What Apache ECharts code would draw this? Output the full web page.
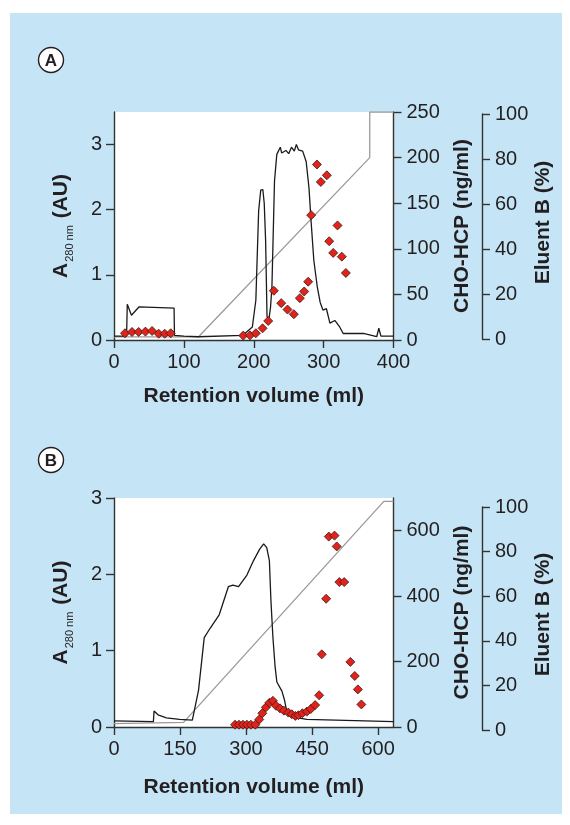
<!DOCTYPE html>
<html>
<head>
<meta charset="utf-8">
<script src="https://cdn.jsdelivr.net/npm/echarts@6/dist/echarts.min.js"></script>
<style>
  html, body { margin: 0; padding: 0; background: #fff; }
  #chart { width: 570px; height: 825px; }
</style>
</head>
<body>
<div id="chart"></div>
<script>
// Panel A: [retention volume (ml), value]
const traceA = [
  [0, 0.06], [18, 0.06], [19, 0.55], [25, 0.38], [36, 0.51], [86, 0.49], [86.5, 0.07],
  [100, 0.06], [121, 0.05], [184, 0.07], [198, 0.2], [203, 0.61], [207, 1.98], [210, 2.3],
  [213, 2.31], [215, 2.1], [217, 1.52], [219, 0.36], [221.5, 0.3], [224, 0.5], [226, 0.81],
  [229.7, 2.44], [233, 2.85], [238, 2.96], [240, 2.87], [246, 2.91], [250, 2.86], [254, 2.96],
  [258, 2.9], [261, 3.0], [264, 2.92], [270, 2.9], [275, 2.74], [279, 2.34], [282, 1.83],
  [286, 1.22], [291, 0.81], [295, 0.58], [299, 0.46], [304, 0.48], [309, 0.26], [316, 0.3],
  [323, 0.2], [328, 0.1], [357, 0.1], [376, 0.05], [379, 0.18], [382, 0.06], [400, 0.06]
];
const hcpA = [
  [15.7, 7.4], [25.8, 8.8], [35.3, 8.8], [45, 9.2], [54.5, 9.9], [64, 6.9], [72.6, 6.9], [81.2, 7.4],
  [185, 4.8], [194.6, 5.1], [203, 7.4], [212.6, 12.8], [220.7, 20.9], [228.8, 54], [239.3, 40.4],
  [248.3, 33.4], [257.4, 28.3], [266, 45.9], [272.2, 53.2], [277.9, 63.9], [282.2, 136.9],
  [290.4, 192.4], [296, 173.3], [304.6, 180.6], [308, 108.3], [313.7, 95.5], [319.9, 125.6],
  [326, 91.4], [331.8, 73.5]
];
const gradientA = [[0, 1.4], [121, 1.4], [366, 80], [366, 100], [400, 100]];

// Panel B
const traceB = [
  [0, 0.08], [89.5, 0.07], [91, 0.21], [100, 0.16], [119, 0.12], [149, 0.1], [178, 0.09],
  [192, 0.48], [205, 1.17], [218, 1.29], [239, 1.47], [260, 1.84], [270, 1.86], [283, 1.84],
  [302, 1.99], [317, 2.18], [331, 2.33], [340, 2.4], [347, 2.35], [353, 2.18], [356.5, 1.66],
  [361, 1.18], [366, 0.79], [370, 0.59], [381.5, 0.47], [387.5, 0.35], [392, 0.22],
  [408, 0.13], [438, 0.1], [635, 0.07]
];
const hcpB = [
  [275, 7], [284, 7], [293, 7], [302, 7], [311, 7], [321, 7], [330, 23], [337, 42], [345, 60],
  [353, 74], [361, 80], [368, 65], [377, 57], [386, 50], [396, 44], [404, 39], [412, 34],
  [419, 36], [428, 42], [438, 47], [447, 55], [457, 67], [466, 97], [472, 222], [482, 392],
  [488, 582], [501, 585], [506, 552], [512, 443], [523, 443], [537, 199], [547, 156],
  [554, 115], [562, 69]
];
const gradientB = [[0, 1.5], [158, 2], [613, 98.5], [635, 98.5]];

const xTicksA = [0, 100, 200, 300, 400];
const xTicksB = [0, 150, 300, 450, 600];
const a280Ticks = [0, 1, 2, 3];
const hcpTicksA = [0, 50, 100, 150, 200, 250];
const hcpTicksB = [0, 200, 400, 600];
const eluentTicks = [0, 20, 40, 60, 80, 100];

const FONT = '"Liberation Sans", Arial, Helvetica, sans-serif';
const AXIS_COLOR = '#333';
const TEXT_COLOR = '#231f20';

function axisStyle(ticks, margin) {
  return {
    axisLine: { show: true, onZero: false, lineStyle: { color: AXIS_COLOR, width: 1.4 } },
    axisTick: { show: true, length: 8, customValues: ticks, lineStyle: { color: AXIS_COLOR, width: 1.4 } },
    axisLabel: { customValues: ticks, margin: margin, color: TEXT_COLOR, fontSize: 20, fontFamily: FONT },
    splitLine: { show: false }
  };
}

const titleStyle = { color: TEXT_COLOR, fontSize: 21, fontWeight: 'bold', fontFamily: FONT };
const a280Name = {
  name: '{a|A}{s|280 nm}{a| (AU)}',
  nameTextStyle: {
    rich: {
      a: { fontSize: 21, fontWeight: 'bold', fontFamily: FONT, color: TEXT_COLOR, lineHeight: 25, verticalAlign: 'bottom' },
      s: { fontSize: 11, fontFamily: FONT, color: TEXT_COLOR, lineHeight: 11, verticalAlign: 'bottom', padding: [0, 1, -3, 1] }
    }
  }
};

function mainAxes(grid, xMax, xTicks, yMax, hcpMax, hcpTicks, xNameGap) {
  return {
    x: [
      Object.assign({ type: 'value', gridIndex: grid, min: 0, max: xMax,
        name: 'Retention volume (ml)', nameLocation: 'middle', nameGap: xNameGap, nameTextStyle: titleStyle },
        axisStyle(xTicks, 12)),
      { type: 'value', gridIndex: grid + 1, min: 0, max: 1, show: false }
    ],
    y: [
      Object.assign({ type: 'value', gridIndex: grid, position: 'left', min: 0, max: yMax,
        nameLocation: 'middle', nameRotate: 90, nameGap: 42 }, a280Name, axisStyle(a280Ticks, 12)),
      Object.assign({ type: 'value', gridIndex: grid, position: 'right', min: 0, max: hcpMax,
        name: 'CHO-HCP (ng/ml)', nameLocation: 'middle', nameRotate: 90, nameGap: 58, nameTextStyle: titleStyle },
        axisStyle(hcpTicks, 13)),
      { type: 'value', gridIndex: grid, min: 0, max: 100, show: false },
      Object.assign({ type: 'value', gridIndex: grid + 1, position: 'right', min: 0, max: 100,
        name: 'Eluent B (%)', nameLocation: 'middle', nameRotate: 90, nameGap: 48,
        nameTextStyle: Object.assign({ padding: [0, 0, 0, 8] }, titleStyle) },
        axisStyle(eluentTicks, 13))
    ]
  };
}

const axA = mainAxes(0, 400, xTicksA, 3.5, 250, hcpTicksA, 46);
const axB = mainAxes(2, 635, xTicksB, 3, 700, hcpTicksB, 50);

const diamond = {
  type: 'scatter', symbol: 'diamond', symbolSize: 9, z: 5,
  itemStyle: { color: '#e3231b', borderColor: '#3a1a14', borderWidth: 0.8, opacity: 1 }
};
const traceLine = {
  type: 'line', showSymbol: false, symbol: 'none', z: 3,
  lineStyle: { color: '#1a1a1a', width: 1.3 }
};
const gradLine = {
  type: 'line', showSymbol: false, symbol: 'none', z: 2,
  lineStyle: { color: '#9a9a9a', width: 1.3 }
};

const chart = echarts.init(document.getElementById('chart'), null, { renderer: 'canvas' });

function badge(letter, cx, cy) {
  return {
    type: 'group', children: [
      { type: 'circle', shape: { cx: cx, cy: cy, r: 12.5 },
        style: { fill: '#fff', stroke: '#231f20', lineWidth: 1.4 } },
      { type: 'text', x: cx, y: cy + 1,
        style: { text: letter, fill: '#231f20', font: 'bold 17px ' + FONT, align: 'center', verticalAlign: 'middle' } }
    ]
  };
}

chart.setOption({
  backgroundColor: '#fff',
  animation: false,
  graphic: [
    { type: 'rect', z: -10, shape: { x: 10, y: 13, width: 552, height: 801 }, style: { fill: '#c5e5f6' } },
    badge('A', 51, 60),
    badge('B', 51, 460)
  ],
  grid: [
    { left: 114, top: 112, width: 279.5, height: 228, show: true, backgroundColor: '#fff', borderWidth: 0 },
    { left: 470, top: 114, width: 12, height: 225 },
    { left: 114, top: 498, width: 279.5, height: 229, show: true, backgroundColor: '#fff', borderWidth: 0 },
    { left: 470, top: 507, width: 12, height: 223 }
  ],
  xAxis: axA.x.concat(axB.x),
  yAxis: axA.y.concat(axB.y),
  series: [
    Object.assign({ xAxisIndex: 0, yAxisIndex: 2, data: gradientA }, gradLine),
    Object.assign({ xAxisIndex: 0, yAxisIndex: 0, data: traceA }, traceLine),
    Object.assign({ xAxisIndex: 0, yAxisIndex: 1, data: hcpA }, diamond),
    Object.assign({ xAxisIndex: 2, yAxisIndex: 6, data: gradientB }, gradLine),
    Object.assign({ xAxisIndex: 2, yAxisIndex: 4, data: traceB }, traceLine),
    Object.assign({ xAxisIndex: 2, yAxisIndex: 5, data: hcpB }, diamond)
  ]
});
</script>
</body>
</html>
